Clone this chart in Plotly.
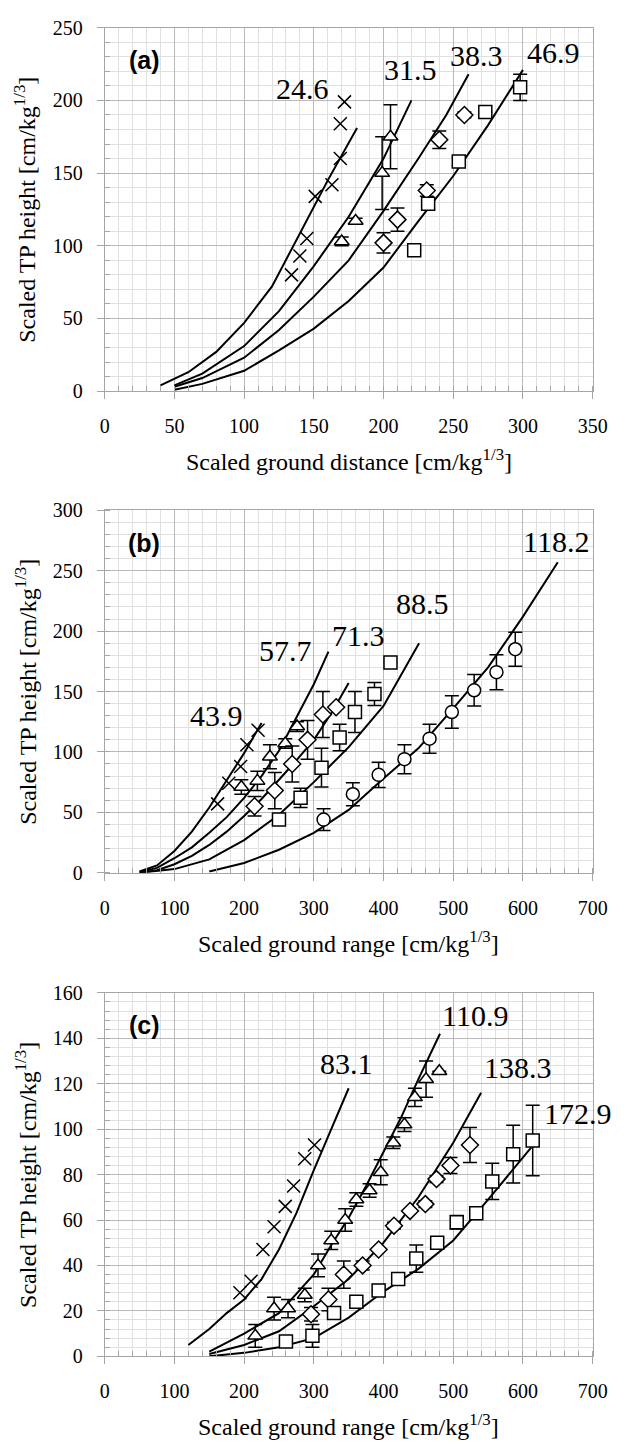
import plotly.graph_objects as go

# ================= Panel (a) =================
a_curve_labels = ["24.6", "31.5", "38.3", "46.9"]
a_label_x = [142, 219, 267, 322]
a_label_y = [208, 221.5, 231, 233]
a_c1_x = [40, 60, 80, 100, 120, 140, 160, 181]
a_c1_y = [4, 13, 27, 47, 72, 108, 145, 181]
a_c2_x = [50, 70, 100, 125, 150, 175, 200, 220]
a_c2_y = [4, 12, 31, 55, 86, 120, 160, 200]
a_c3_x = [50, 70, 100, 125, 150, 175, 200, 225, 245, 261]
a_c3_y = [3, 9, 23, 42, 65, 90, 124, 160, 190, 218]
a_c4_x = [50, 70, 100, 125, 150, 175, 200, 225, 250, 275, 300]
a_c4_y = [1, 5, 14, 28, 43, 62, 85, 117, 148, 183, 221]

a_cross_x = [134, 140, 145, 151, 163, 169, 169, 172]
a_cross_y = [80, 93, 105, 134, 142, 160, 184, 199]
a_tri_x = [170, 180, 199, 205]
a_tri_y = [103, 117, 150, 175]
a_tri_e = [3, 2, 25, 22]
a_dia_x = [200, 210, 231, 240, 258]
a_dia_y = [102, 118, 138, 173, 190]
a_dia_e = [7, 8, 4, 6, 2]
a_sq_x = [222, 232, 254, 273, 298]
a_sq_y = [97, 129, 158, 192, 209]
a_sq_e = [None, 4, 3, None, 9]

# ================= Panel (b) =================
b_curve_labels = ["43.9", "57.7", "71.3", "88.5", "118.2"]
b_label_x = [160, 259, 364, 456, 648]
b_label_y = [130, 184, 196, 223, 274]
b_c1_x = [50, 75, 100, 125, 150, 175, 200, 225]
b_c1_y = [1, 6, 18, 34, 54, 76, 99, 124]
b_c2_x = [50, 75, 100, 125, 150, 175, 200, 225, 250, 275, 300, 321]
b_c2_y = [0.5, 4, 12, 21, 33, 46, 62, 80, 101, 128, 156, 183]
b_c3_x = [50, 75, 100, 125, 150, 175, 200, 225, 250, 275, 300, 325, 350]
b_c3_y = [0, 2, 7, 14, 23, 34, 47, 61, 77, 93, 110, 132, 157]
b_c4_x = [50, 100, 150, 200, 250, 300, 350, 400, 451]
b_c4_y = [0, 3, 11, 27, 48, 75, 104, 138, 190]
b_c5_x = [150, 200, 250, 300, 350, 400, 450, 500, 550, 600, 650]
b_c5_y = [1, 8, 19, 33, 52, 78, 103, 136, 170, 212, 257]

b_cross_x = [162, 178, 195, 204, 220]
b_cross_y = [57, 74, 88, 106, 118]
b_tri_x = [196, 219, 237, 259, 276]
b_tri_y = [71, 76, 96, 107, 121]
b_tri_e = [6, 8, 10, 4, 4]
b_dia_x = [215, 244, 269, 291, 313, 332]
b_dia_y = [55, 68, 90, 110, 131, 137]
b_dia_e = [8, 15, 15, 16, 19, None]
b_sq_x = [250, 281, 311, 337, 359, 387, 410]
b_sq_y = [44, 62, 87, 112, 133, 148, 174]
b_sq_e = [None, 8, 16, 11, 17, 9.5, None]
b_cir_x = [314, 356, 393, 430, 466, 498, 530, 562, 589]
b_cir_y = [44, 65, 81, 94, 111, 133, 151, 166, 185]
b_cir_e = [9, 9.5, 10.5, 12, 12, 13.5, 13, 14.5, 14]

# ================= Panel (c) =================
c_curve_labels = ["83.1", "110.9", "138.3", "172.9"]
c_label_x = [347, 531, 593, 679]
c_label_y = [129, 150, 127, 107]
c_c1_x = [120, 150, 175, 200, 225, 250, 275, 300, 325, 350]
c_c1_y = [5, 12, 19, 25, 34, 47, 63, 82, 100, 118]
c_c2_x = [150, 200, 250, 300, 325, 350, 375, 400, 425, 450, 481]
c_c2_y = [2, 10, 19, 36, 49, 61, 75, 90, 105, 122, 142]
c_c3_x = [150, 200, 250, 300, 350, 400, 450, 500, 540]
c_c3_y = [1, 5, 11, 22, 34, 50, 70, 94, 116]
c_c4_x = [150, 200, 250, 300, 350, 400, 450, 500, 550, 612]
c_c4_y = [0, 1.5, 4, 8, 17, 28.5, 38.5, 51, 69, 92]

c_cross_x = [194, 210, 227, 243, 259, 271, 287, 301]
c_cross_y = [28, 33, 47, 57, 66, 75, 87, 93]
c_tri_x = [216, 243, 263, 287, 306, 325, 345, 361, 380, 396, 414, 430, 445, 461, 480]
c_tri_y = [9, 21, 21, 27, 40, 51, 60, 69, 73, 81, 94, 102, 114, 122, 125.5]
c_tri_e = [5, 5, 4, 3, 5, 4, 5, 3, 3, 5.5, 2.5, 3, 4, 8, None]
c_dia_x = [296, 321, 343, 370, 393, 415, 438, 460, 476, 496, 524]
c_dia_y = [18.5, 25, 36, 40, 47, 57.5, 64, 67, 78, 84, 93]
c_dia_e = [3, 5, 6, 2, None, 1.5, None, 1.5, 1.5, 3.5, 7.7]
c_sq_x = [260, 298, 329, 361, 393, 421, 447, 477, 505, 533, 556, 586, 614]
c_sq_y = [6.5, 9, 19, 24, 29, 34, 43, 50, 59, 63, 77, 89, 95]
c_sq_e = [None, 5, None, None, None, None, 6, None, 3, None, 8, 12.7, 15.5]

SERIF = "Liberation Serif, Times New Roman, Times, serif"
SANS = "Liberation Sans, Arial, sans-serif"
W, H = 627, 1450
PLOT_L, PLOT_R = 103, 607
panels_px = [(17, 386), (507, 875), (997, 1366)]

fig = go.Figure()


def line(x, y, k):
    fig.add_trace(go.Scatter(x=x, y=y, mode="lines", xaxis="x" + k, yaxis="y" + k,
                             line=dict(color="black", width=2), showlegend=False,
                             hoverinfo="skip"))


def pts(x, y, k, symbol, size, err=None):
    kw = {}
    if err is not None:
        kw["error_y"] = dict(type="data", array=err, color="black", thickness=1.5, width=7,
                             visible=True)
    fig.add_trace(go.Scatter(x=x, y=y, mode="markers", xaxis="x" + k, yaxis="y" + k,
                             marker=dict(symbol=symbol, size=size, color="white",
                                         line=dict(color="black", width=1.5)),
                             showlegend=False, **kw))


def cross(x, y, k):
    fig.add_trace(go.Scatter(x=x, y=y, mode="markers", xaxis="x" + k, yaxis="y" + k,
                             marker=dict(symbol="x-thin", size=13, color="black",
                                         line=dict(color="black", width=1.5)),
                             showlegend=False))


# panel (a)
for cx, cy in [(a_c1_x, a_c1_y), (a_c2_x, a_c2_y), (a_c3_x, a_c3_y), (a_c4_x, a_c4_y)]:
    line(cx, cy, "")
cross(a_cross_x, a_cross_y, "")
pts(a_tri_x, a_tri_y, "", "triangle-up", 13, a_tri_e)
pts(a_dia_x, a_dia_y, "", "diamond", 13, a_dia_e)
pts(a_sq_x, a_sq_y, "", "square", 13, a_sq_e)

# panel (b)
for cx, cy in [(b_c1_x, b_c1_y), (b_c2_x, b_c2_y), (b_c3_x, b_c3_y), (b_c4_x, b_c4_y),
               (b_c5_x, b_c5_y)]:
    line(cx, cy, "2")
cross(b_cross_x, b_cross_y, "2")
pts(b_tri_x, b_tri_y, "2", "triangle-up", 13, b_tri_e)
pts(b_dia_x, b_dia_y, "2", "diamond", 13, b_dia_e)
pts(b_sq_x, b_sq_y, "2", "square", 13, b_sq_e)
pts(b_cir_x, b_cir_y, "2", "circle", 13, b_cir_e)

# panel (c)
for cx, cy in [(c_c1_x, c_c1_y), (c_c2_x, c_c2_y), (c_c3_x, c_c3_y), (c_c4_x, c_c4_y)]:
    line(cx, cy, "3")
cross(c_cross_x, c_cross_y, "3")
pts(c_tri_x, c_tri_y, "3", "triangle-up", 13, c_tri_e)
pts(c_dia_x, c_dia_y, "3", "diamond", 13, c_dia_e)
pts(c_sq_x, c_sq_y, "3", "square", 13, c_sq_e)


def xaxis(rng, dtick, mdtick, anchor):
    return dict(domain=[PLOT_L / W, PLOT_R / W], range=rng, dtick=dtick, tick0=0,
                anchor=anchor, showline=True, linecolor="#a6a6a6", linewidth=1,
                mirror=True, gridcolor="#b9b9b9", gridwidth=1, zeroline=False,
                ticks="outside", ticklen=7, tickcolor="#a6a6a6",
                tickfont=dict(family=SERIF, size=20, color="black"),
                ticklabelstandoff=10,
                minor=dict(dtick=mdtick, showgrid=True, gridcolor="#e0e0e0", gridwidth=1,
                           ticks="inside", ticklen=5, tickcolor="#a6a6a6"))


def yaxis(rng, dtick, mdtick, anchor, px):
    top, bot = px
    return dict(domain=[1 - bot / H, 1 - top / H], range=rng, dtick=dtick, tick0=0,
                anchor=anchor, showline=True, linecolor="#a6a6a6", linewidth=1,
                mirror=True, gridcolor="#b9b9b9", gridwidth=1, zeroline=False,
                ticks="outside", ticklen=7, tickcolor="#a6a6a6",
                tickfont=dict(family=SERIF, size=20, color="black"),
                ticklabelstandoff=10,
                minor=dict(dtick=mdtick, showgrid=True, gridcolor="#e0e0e0", gridwidth=1,
                           ticks="inside", ticklen=5, tickcolor="#a6a6a6"))


annotations = []


def add_labels(labels, lx, ly, k):
    for t, x, y in zip(labels, lx, ly):
        annotations.append(dict(text=t, x=x, y=y, xref="x" + k, yref="y" + k,
                                xanchor="center", yanchor="middle",
                                showarrow=False, font=dict(family=SERIF, size=30, color="black")))


add_labels(a_curve_labels, a_label_x, a_label_y, "")
add_labels(b_curve_labels, b_label_x, b_label_y, "2")
add_labels(c_curve_labels, c_label_x, c_label_y, "3")

panel_tags = ["(a)", "(b)", "(c)"]
xtitles = ["Scaled ground distance [cm/kg<sup>1/3</sup>]",
           "Scaled ground range [cm/kg<sup>1/3</sup>]",
           "Scaled ground range [cm/kg<sup>1/3</sup>]"]
ytitle = "Scaled TP height [cm/kg<sup>1/3</sup>]"
for (top, bot), tag, xt in zip(panels_px, panel_tags, xtitles):
    annotations.append(dict(text="<b>" + tag + "</b>", x=144 / W, y=1 - (top + 33) / H,
                            xref="paper", yref="paper", showarrow=False,
                            xanchor="center", yanchor="middle",
                            font=dict(family=SANS, size=25, color="black")))
    annotations.append(dict(text=xt, x=(PLOT_L + PLOT_R) / 2 / W, y=1 - (bot + 70) / H,
                            xref="paper", yref="paper", showarrow=False,
                            xanchor="center", yanchor="middle",
                            font=dict(family=SERIF, size=24, color="black")))
    annotations.append(dict(text=ytitle, x=21 / W, y=1 - (top + bot) / 2 / H,
                            xref="paper", yref="paper", showarrow=False, textangle=-90,
                            xanchor="center", yanchor="middle",
                            font=dict(family=SERIF, size=24, color="black")))

fig.update_layout(
    width=W, height=H, margin=dict(l=0, r=0, t=0, b=0),
    paper_bgcolor="white", plot_bgcolor="white", showlegend=False,
    font=dict(family=SERIF),
    xaxis=xaxis([0, 350], 50, 10, "y"),
    yaxis=yaxis([0, 250], 50, 10, "x", panels_px[0]),
    xaxis2=xaxis([0, 700], 100, 20, "y2"),
    yaxis2=yaxis([0, 300], 50, 10, "x2", panels_px[1]),
    xaxis3=xaxis([0, 700], 100, 20, "y3"),
    yaxis3=yaxis([0, 160], 20, 4, "x3", panels_px[2]),
    annotations=annotations,
)

fig.write_html("out.html")
